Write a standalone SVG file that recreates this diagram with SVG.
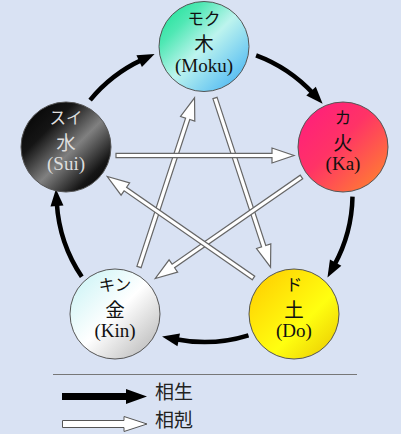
<svg xmlns="http://www.w3.org/2000/svg" xmlns:xlink="http://www.w3.org/1999/xlink" width="401" height="434" viewBox="0 0 401 434">
<style>
.node circle{stroke:#555;stroke-width:1}
.kana{font-family:"Noto Sans CJK JP",sans-serif;font-size:16.5px;text-anchor:middle;fill:#111}
.kanji{font-family:"Noto Sans CJK JP",sans-serif;font-size:19.5px;text-anchor:middle;fill:#111}
.roma{font-family:"Liberation Serif",serif;font-size:19px;text-anchor:middle;fill:#111}
.light{fill:#ddd}
.gen{fill:none;stroke:#000;stroke-width:4.5;marker-end:url(#ah)}
.ctl{fill:#fff;stroke:#666;stroke-width:1.2;stroke-linejoin:miter}
.leg{font-family:"Noto Sans CJK JP",sans-serif;font-size:19px;fill:#222}
</style>
<defs>
<linearGradient id="gMoku" x1="0" y1="0" x2="1" y2="1">
<stop offset="0" stop-color="#10e090"/><stop offset="0.25" stop-color="#50e8b4"/><stop offset="0.5" stop-color="#bdf4ee"/><stop offset="0.8" stop-color="#6cc8f2"/><stop offset="1" stop-color="#3aa6ee"/>
</linearGradient>
<linearGradient id="gKa" x1="0" y1="0" x2="1" y2="1">
<stop offset="0" stop-color="#ff1a80"/><stop offset="0.45" stop-color="#ff3366"/><stop offset="1" stop-color="#ff8c28"/>
</linearGradient>
<linearGradient id="gDo" x1="0" y1="0" x2="1" y2="1">
<stop offset="0" stop-color="#ffc800"/><stop offset="0.6" stop-color="#ffff10"/><stop offset="1" stop-color="#e8c400"/>
</linearGradient>
<linearGradient id="gKin" x1="0" y1="0" x2="1" y2="1">
<stop offset="0" stop-color="#c4f2f4"/><stop offset="0.5" stop-color="#ffffff"/><stop offset="1" stop-color="#b0b0b0"/>
</linearGradient>
<linearGradient id="gSui" x1="0" y1="0" x2="1" y2="1">
<stop offset="0" stop-color="#000"/><stop offset="0.3" stop-color="#151515"/><stop offset="0.55" stop-color="#808080"/><stop offset="0.8" stop-color="#151515"/><stop offset="1" stop-color="#000"/>
</linearGradient>
<marker id="ah" markerUnits="userSpaceOnUse" markerWidth="30" markerHeight="30" viewBox="-10 -15 30 30" refX="0" refY="0" orient="auto" overflow="visible">
<path d="M-3,-6.5 L14,0 L-3,6.5 Z" fill="#000"/>
</marker>
<path id="hollow" class="ctl" d="M0,-2.2 H156 V-7.5 L178,0 L156,7.5 V2.2 H0 Z"/>
</defs>
<rect width="401" height="434" fill="#d9e2f3"/>
<g id="connectors">
<path class="gen" d="M256.1,55.3 A148,148 0 0 1 313.1,93.4"/>
<path class="gen" d="M352.5,196.6 A148,148 0 0 1 334.2,265.3"/>
<path class="gen" d="M248.5,335.3 A148,148 0 0 1 175.8,339.2"/>
<path class="gen" d="M81.8,276.8 A148,148 0 0 1 56.8,203.0"/>
<path class="gen" d="M90.1,100.1 A148,148 0 0 1 141.9,59.9"/>
<use xlink:href="#hollow" transform="translate(215,98) rotate(71.82)"/>
<use xlink:href="#hollow" transform="translate(139,267) rotate(-71.82)"/>
<use xlink:href="#hollow" transform="translate(301.5,177) rotate(145.23)"/>
<use xlink:href="#hollow" transform="translate(253.5,278) rotate(-145.23)"/>
<use xlink:href="#hollow" transform="translate(116,155.5)"/>
</g>
<g id="moku" class="node">
<circle cx="204" cy="46.5" r="45" fill="url(#gMoku)"/>
<text class="kana" x="204" y="24.5">モク</text>
<text class="kanji" x="204" y="51">木</text>
<text class="roma" x="204" y="72">(Moku)</text>
</g>
<g id="ka" class="node">
<circle cx="343" cy="147" r="45" fill="url(#gKa)"/>
<text class="kana" x="343" y="124">カ</text>
<text class="kanji" x="343" y="150">火</text>
<text class="roma" x="343" y="170">(Ka)</text>
</g>
<g id="do" class="node">
<circle cx="294" cy="314" r="45" fill="url(#gDo)"/>
<text class="kana" x="294" y="291">ド</text>
<text class="kanji" x="294" y="317">土</text>
<text class="roma" x="294" y="337">(Do)</text>
</g>
<g id="kin" class="node">
<circle cx="115" cy="314" r="45" fill="url(#gKin)"/>
<text class="kana" x="115" y="291">キン</text>
<text class="kanji" x="115" y="317">金</text>
<text class="roma" x="115" y="337">(Kin)</text>
</g>
<g id="sui" class="node">
<circle cx="66" cy="147" r="45" fill="url(#gSui)"/>
<text class="kana light" x="66" y="124">スイ</text>
<text class="kanji light" x="66" y="150">水</text>
<text class="roma light" x="66" y="170">(Sui)</text>
</g>
<g id="legend">
<line x1="53" y1="374.5" x2="357" y2="374.5" stroke="#777" stroke-width="1"/>
<path d="M62,393 H126 V389 L147,396.5 L126,404 V400 H62 Z" fill="#000"/>
<text class="leg" x="155" y="399">相生</text>
<path d="M62.5,420.5 H124 V416.5 L147,424 L124,431.5 V427.5 H62.5 Z" fill="#fff" stroke="#555" stroke-width="1"/>
<text class="leg" x="155" y="427">相剋</text>
</g>
</svg>
